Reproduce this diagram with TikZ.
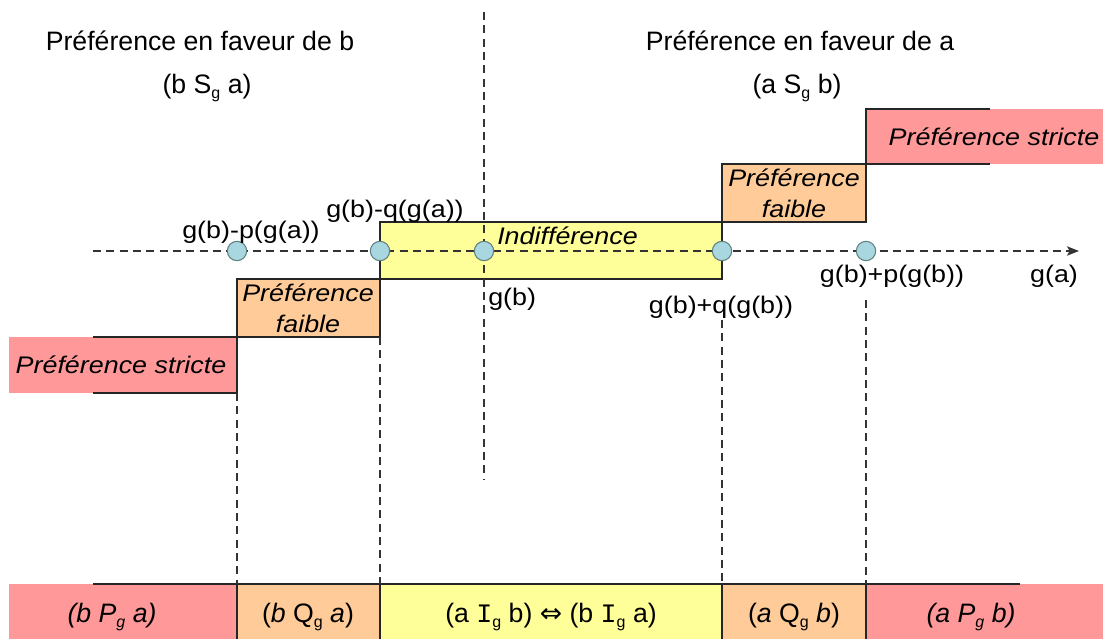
\documentclass[tikz,border=0pt]{standalone}
\usepackage{fontspec}
\setmainfont{Liberation Sans}
\newfontfamily\lfont{Liberation Sans}[FakeStretch=1.12]
\newfontfamily\symfont{DejaVu Sans}
\newfontfamily\monofont{Liberation Mono}
\usetikzlibrary{arrows.meta}
\definecolor{cred}{HTML}{FF9999}
\definecolor{corange}{HTML}{FFCC99}
\definecolor{cyellow}{HTML}{FFFF99}
\definecolor{cdot}{HTML}{A9D7E0}
\definecolor{cdotline}{HTML}{5F7F7F}
\newcommand{\lsub}[1]{\raisebox{-0.35ex}{\fontsize{12}{12}\selectfont #1}}
\begin{document}
\begin{tikzpicture}[x=0.75pt,y=-0.75pt,
  every node/.style={font=\fontsize{20}{24}\selectfont, inner sep=0pt},
  lab/.style={font=\lfont\fontsize{18}{22}\selectfont},
  itl/.style={font=\lfont\fontsize{18}{23}\selectfont\itshape, align=center},
  dline/.style={dash pattern=on 6pt off 4pt, line width=1pt, black!80},
  edge/.style={line width=0.9pt, black!85},
  dot/.style={circle, minimum size=14.5pt, fill=cdot, draw=cdotline, line width=0.8pt}]
\useasboundingbox (0,0) rectangle (1107,639);
% fills of the stairs
\fill[cred] (866,109) rectangle (1103,164);
\fill[corange] (722,164) rectangle (866,222);
\fill[cyellow] (380,222) rectangle (722,279);
\fill[corange] (237,279) rectangle (380,337);
\fill[cred] (9,337) rectangle (237,393);
% bottom band
\fill[cred] (9,584) rectangle (237,639);
\fill[corange] (237,584) rectangle (380,639);
\fill[cyellow] (380,584) rectangle (722,639);
\fill[corange] (722,584) rectangle (866,639);
\fill[cred] (866,584) rectangle (1103,639);
% outlines
\draw[edge] (990,109) -- (866,109) -- (866,164) -- (990,164);
\draw[edge] (722,164) rectangle (866,222);
\draw[edge] (380,222) rectangle (722,279);
\draw[edge] (237,279) rectangle (380,337);
\draw[edge] (93,337) -- (237,337) -- (237,393) -- (93,393);
\draw[edge] (93,584) -- (1020,584);
\foreach \xx in {237,380,722,866} \draw[edge] (\xx,584) -- (\xx,639);
% axis and centre line
\coordinate (ctop) at (484,12);
\coordinate (cbot) at (484,480);
\draw[dline] (ctop) -- (cbot);
\coordinate (axs) at (93,251);
\coordinate (axe) at (1079,251);
\draw[dline, -{Stealth[length=9pt,width=7pt,inset=2pt]}] (axs) -- (axe);
% vertical guides
\coordinate (v1) at (237,393); \coordinate (w1) at (237,584);
\coordinate (v2) at (380,337); \coordinate (w2) at (380,584);
\coordinate (v4) at (722,320); \coordinate (w4) at (722,584);
\coordinate (v5) at (866,300); \coordinate (w5) at (866,584);
\draw[dline] (v1) -- (w1);
\draw[dline] (v2) -- (w2);
\draw[dline] (v4) -- (w4);
\draw[dline] (v5) -- (w5);
% points
\node[dot] (p1) at (237,251) {};
\node[dot] (p2) at (380,251) {};
\node[dot] (p3) at (484,251) {};
\node[dot] (p4) at (722,251) {};
\node[dot] (p5) at (866,251) {};
% headers
\node (hb) at (200,41) {Préférence en faveur de b};
\node (ha) at (800,41) {Préférence en faveur de a};
\node (sb) at (207,88) {(b S\lsub{g} a)};
\node (sa) at (797,88) {(a S\lsub{g} b)};
% box labels
\node[itl] (ps1) at (121,365) {Préférence stricte};
\node[itl] (pf1) at (308,308) {Préférence\\faible};
\node[itl, anchor=west] (ind) at (497,236) {Indifférence};
\node[itl] (pf2) at (794,193) {Préférence\\faible};
\node[itl] (ps2) at (994,137) {Préférence stricte};
% point labels
\node[lab] (l1) at (251,232) {g(b)-p(g(a))};
\node[lab] (l2) at (395,211) {g(b)-q(g(a))};
\node[lab, anchor=west] (l3) at (488,299) {g(b)};
\node[lab] (l4) at (721,307) {g(b)+q(g(b))};
\node[lab] (l5) at (892,276) {g(b)+p(g(b))};
\node[lab] (l6) at (1054,276) {g(a)};
% bottom band labels
\node (b1) at (112,617) {\itshape (b P\lsub{g} a)};
\node (b2) at (308,617) {(\textit{b} Q\lsub{g} \textit{a})};
\node (b3) at (551,617) {(a {\monofont I}\lsub{g} b) {\symfont ⇔} (b {\monofont I}\lsub{g} a)};
\node (b4) at (794,617) {(\textit{a} Q\lsub{g} \textit{b})};
\node (b5) at (971,617) {\itshape (a P\lsub{g} b)};
\end{tikzpicture}
\end{document}
